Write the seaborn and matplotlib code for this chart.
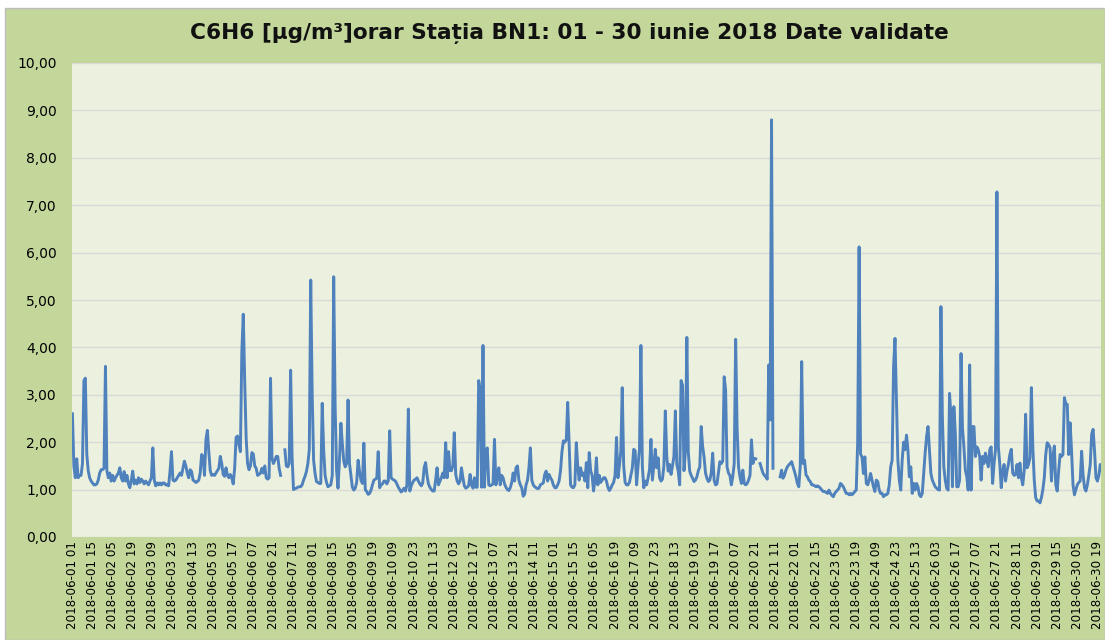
import numpy as np
import pandas as pd
import matplotlib
matplotlib.use("Agg")
import matplotlib.pyplot as plt
from matplotlib.patches import Rectangle
import seaborn as sns

nan = float("nan")

# Hourly C6H6 values (µg/m³), 24 per day, hour 01 .. 24
jun01 = [2.6, 1.5, 1.25, 1.65, 1.25, 1.3, 1.3, 1.55, 3.3, 3.35, 1.75, 1.4, 1.25, 1.18, 1.14, 1.1, 1.1, 1.12, 1.2, 1.35, 1.42, 1.42, 1.45, 3.6]
jun02 = [1.4, 1.25, 1.35, 1.18, 1.3, 1.18, 1.25, 1.3, 1.35, 1.46, 1.25, 1.18, 1.38, 1.18, 1.3, 1.12, 1.04, 1.2, 1.39, 1.12, 1.2, 1.12, 1.25, 1.15]
jun03 = [1.22, 1.18, 1.12, 1.18, 1.14, 1.1, 1.18, 1.25, 1.88, 1.2, 1.08, 1.14, 1.1, 1.14, 1.1, 1.14, 1.14, 1.1, 1.1, 1.08, 1.4, 1.8, 1.2, 1.18]
jun04 = [1.2, 1.25, 1.3, 1.35, 1.3, 1.45, 1.6, 1.5, 1.35, 1.25, 1.42, 1.38, 1.2, 1.18, 1.15, 1.17, 1.2, 1.35, 1.74, 1.7, 1.3, 2.05, 2.25, 1.8]
jun05 = [1.4, 1.3, 1.32, 1.3, 1.35, 1.4, 1.45, 1.7, 1.55, 1.32, 1.28, 1.46, 1.3, 1.25, 1.32, 1.25, 1.12, 1.45, 2.1, 2.13, 1.95, 1.8, 3.9, 4.7]
jun06 = [3.3, 2.1, 1.55, 1.42, 1.5, 1.78, 1.75, 1.5, 1.45, 1.3, 1.32, 1.35, 1.45, 1.35, 1.5, 1.25, 1.22, 1.25, 3.35, 1.66, 1.55, 1.62, 1.7, 1.7]
jun07 = [1.45, 1.3, nan, nan, 1.84, 1.5, 1.48, 1.55, 3.52, 1.7, 1.0, 1.02, 1.03, 1.05, 1.06, 1.06, 1.1, 1.2, 1.28, 1.38, 1.55, 1.84, 5.42, 3.03]
jun08 = [1.62, 1.34, 1.17, 1.15, 1.13, 1.13, 2.82, 1.84, 1.3, 1.15, 1.06, 1.08, 1.1, 1.3, 5.49, 2.75, 1.41, 1.03, 1.62, 2.4, 1.98, 1.6, 1.48, 1.55]
jun09 = [2.89, 1.55, 1.3, 1.05, 0.99, 1.03, 1.15, 1.62, 1.38, 1.2, 1.13, 1.98, 1.0, 0.96, 0.9, 0.92, 0.99, 1.1, 1.2, 1.22, 1.24, 1.8, 1.04, 1.1]
jun10 = [1.12, 1.18, 1.18, 1.12, 1.18, 2.24, 1.25, 1.22, 1.2, 1.18, 1.12, 1.05, 1.0, 0.95, 0.98, 1.03, 0.97, 1.1, 2.7, 0.97, 1.08, 1.15, 1.2, 1.22]
jun11 = [1.25, 1.18, 1.12, 1.08, 1.14, 1.46, 1.57, 1.3, 1.12, 1.05, 1.0, 0.97, 0.97, 1.2, 1.46, 1.1, 1.18, 1.25, 1.35, 1.25, 1.99, 1.25, 1.8, 1.4]
jun12 = [1.4, 1.5, 2.2, 1.32, 1.18, 1.12, 1.18, 1.46, 1.25, 1.08, 1.03, 1.05, 1.08, 1.32, 1.1, 1.03, 1.25, 1.05, 1.05, 3.3, 3.1, 1.05, 4.04, 1.05]
jun13 = [1.8, 1.88, 1.1, 1.08, 1.1, 1.12, 2.06, 1.1, 1.25, 1.46, 1.1, 1.3, 1.25, 1.12, 1.05, 1.0, 0.98, 1.04, 1.15, 1.35, 1.18, 1.46, 1.5, 1.2]
jun14 = [1.1, 1.04, 0.86, 0.9, 1.1, 1.2, 1.46, 1.88, 1.2, 1.1, 1.06, 1.04, 1.02, 1.03, 1.1, 1.12, 1.14, 1.32, 1.39, 1.18, 1.32, 1.25, 1.2, 1.1]
jun15 = [1.04, 1.04, 1.1, 1.18, 1.4, 1.8, 2.03, 2.0, 2.05, 2.84, 2.0, 1.1, 1.05, 1.04, 1.1, 1.99, 1.5, 1.2, 1.46, 1.3, 1.35, 1.18, 1.57, 1.04]
jun16 = [1.78, 1.4, 1.3, 0.97, 1.2, 1.67, 1.1, 1.3, 1.15, 1.2, 1.25, 1.25, 1.18, 1.05, 0.98, 1.03, 1.1, 1.15, 1.3, 2.1, 1.25, 1.5, 1.8, 3.15]
jun17 = [1.5, 1.15, 1.1, 1.1, 1.15, 1.3, 1.45, 1.85, 1.82, 1.1, 1.5, 1.85, 4.04, 1.5, 1.04, 1.18, 1.1, 1.25, 1.42, 2.06, 1.2, 1.5, 1.85, 1.46]
jun18 = [1.67, 1.25, 1.18, 1.22, 1.5, 2.66, 1.7, 1.39, 1.53, 1.32, 1.5, 1.7, 2.66, 1.53, 1.39, 1.1, 3.3, 3.2, 1.4, 1.8, 4.21, 1.8, 1.39, 1.3]
jun19 = [1.24, 1.17, 1.2, 1.27, 1.4, 1.48, 2.33, 1.91, 1.69, 1.35, 1.24, 1.17, 1.2, 1.35, 1.77, 1.2, 1.1, 1.12, 1.35, 1.59, 1.55, 1.6, 3.38, 3.1]
jun20 = [1.48, 1.35, 1.3, 1.1, 1.27, 1.55, 4.17, 2.3, 1.48, 1.27, 1.13, 1.41, 1.13, 1.1, 1.13, 1.2, 1.3, 2.05, 1.55, 1.66, 1.65, nan, nan, 1.55]
jun21 = [1.45, 1.35, 1.3, 1.27, 1.22, 3.63, 2.47, 8.8, 1.45, nan, nan, nan, nan, 1.27, 1.41, 1.24, 1.3, 1.41, 1.48, 1.52, 1.55, 1.59, 1.48, 1.38]
jun22 = [1.27, 1.13, 1.06, 1.5, 3.7, 1.55, 1.62, 1.31, 1.27, 1.2, 1.17, 1.1, 1.1, 1.08, 1.06, 1.08, 1.06, 1.03, 0.99, 0.96, 0.96, 0.94, 0.92, 0.99]
jun23 = [0.92, 0.88, 0.85, 0.92, 0.96, 0.99, 1.03, 1.13, 1.1, 1.06, 0.99, 0.92, 0.92, 0.89, 0.92, 0.89, 0.92, 0.96, 0.99, 2.0, 6.12, 1.75, 1.69, 1.34]
jun24 = [1.69, 1.13, 1.1, 1.2, 1.34, 1.2, 1.06, 0.96, 1.2, 1.17, 0.99, 0.92, 0.92, 0.85, 0.89, 0.89, 0.92, 1.1, 1.48, 1.62, 3.59, 4.19, 2.89, 1.62]
jun25 = [1.2, 0.99, 1.62, 2.0, 1.84, 2.15, 1.84, 1.27, 1.48, 0.92, 1.13, 0.99, 1.13, 1.06, 0.89, 0.85, 0.92, 1.34, 1.77, 2.12, 2.33, 1.84, 1.34, 1.2]
jun26 = [1.13, 1.06, 1.03, 1.0, 0.99, 4.86, 2.54, 1.48, 1.2, 1.03, 0.99, 3.03, 2.55, 1.06, 2.75, 2.2, 1.06, 1.06, 1.2, 3.87, 2.3, 1.9, 1.41, 1.27]
jun27 = [0.99, 3.63, 0.99, 2.33, 2.33, 1.7, 1.9, 1.84, 1.7, 1.2, 1.7, 1.55, 1.77, 1.62, 1.48, 1.84, 1.9, 1.13, 1.55, 1.84, 7.28, 1.9, 1.53, 1.04]
jun28 = [1.4, 1.53, 1.18, 1.39, 1.53, 1.74, 1.85, 1.35, 1.3, 1.32, 1.53, 1.25, 1.56, 1.25, 1.1, 1.4, 2.59, 1.46, 1.53, 1.67, 3.15, 1.9, 1.2, 0.83]
jun29 = [0.76, 0.76, 0.72, 0.83, 1.0, 1.25, 1.74, 1.99, 1.95, 1.88, 1.18, 1.7, 1.92, 1.1, 0.97, 1.4, 1.74, 1.7, 1.74, 2.94, 2.8, 2.8, 1.74, 2.41]
jun30 = [1.81, 1.1, 0.89, 1.0, 1.1, 1.15, 1.18, 1.81, 1.32, 1.04, 0.97, 1.1, 1.3, 1.53, 2.17, 2.27, 1.81, 1.25, 1.18, 1.3, 1.53, 1.39, 1.46, 1.55]

x_tick_labels = [
    "2018-06-01 01", "2018-06-01 15", "2018-06-02 05", "2018-06-02 19", "2018-06-03 09",
    "2018-06-03 23", "2018-06-04 13", "2018-06-05 03", "2018-06-05 17", "2018-06-06 07",
    "2018-06-06 21", "2018-06-07 11", "2018-06-08 01", "2018-06-08 15", "2018-06-09 05",
    "2018-06-09 19", "2018-06-10 09", "2018-06-10 23", "2018-06-11 13", "2018-06-12 03",
    "2018-06-12 17", "2018-06-13 07", "2018-06-13 21", "2018-06-14 11", "2018-06-15 01",
    "2018-06-15 15", "2018-06-16 05", "2018-06-16 19", "2018-06-17 09", "2018-06-17 23",
    "2018-06-18 13", "2018-06-19 03", "2018-06-19 17", "2018-06-20 07", "2018-06-20 21",
    "2018-06-21 11", "2018-06-22 01", "2018-06-22 15", "2018-06-23 05", "2018-06-23 19",
    "2018-06-24 09", "2018-06-24 23", "2018-06-25 13", "2018-06-26 03", "2018-06-26 17",
    "2018-06-27 07", "2018-06-27 21", "2018-06-28 11", "2018-06-29 01", "2018-06-29 15",
    "2018-06-30 05", "2018-06-30 19",
]
y_ticks = [0, 1, 2, 3, 4, 5, 6, 7, 8, 9, 10]
title = "C6H6 [µg/m³]orar Stația BN1: 01 - 30 iunie 2018 Date validate"

days = [jun01, jun02, jun03, jun04, jun05, jun06, jun07, jun08, jun09, jun10,
        jun11, jun12, jun13, jun14, jun15, jun16, jun17, jun18, jun19, jun20,
        jun21, jun22, jun23, jun24, jun25, jun26, jun27, jun28, jun29, jun30]
values = [v for d in days for v in d]
assert len(values) == 720

df = pd.DataFrame({"idx": np.arange(len(values)), "val": values})
df["seg"] = df["val"].isna().cumsum()
df = df.dropna()

plt.rcParams["font.family"] = ["DejaVu Sans"]

W, H = 1105, 640
fig = plt.figure(figsize=(W / 100, H / 100), dpi=100)
fig.patch.set_facecolor("white")
fig.add_artist(Rectangle((5 / W, 0), 1 - 5 / W, 1 - 8 / H, transform=fig.transFigure,
                         facecolor="#c4d79b", edgecolor="#bdbdbd", lw=1, zorder=0))

ax = fig.add_axes([72 / W, 103 / H, 1029 / W, 474 / H])
ax.set_facecolor("#ebf1de")

sns.lineplot(data=df, x="idx", y="val", units="seg", estimator=None,
             color="#4f81bd", linewidth=2.1, ax=ax, legend=False)

ax.set_xlim(-0.3, 716.5)
ax.set_ylim(0, 10)
ax.set_yticks(y_ticks)
ax.set_yticklabels([f"{t:.2f}".replace(".", ",") for t in y_ticks], fontsize=10)
ax.set_xticks(np.arange(0, 14 * len(x_tick_labels), 14))
ax.set_xticklabels(x_tick_labels, rotation=90, fontsize=8.6, va="top", ha="center")
ax.tick_params(axis="both", length=0)
ax.tick_params(axis="y", pad=11)
ax.tick_params(axis="x", pad=3)
ax.grid(axis="y", color="#d9d9d9", linewidth=1)
ax.grid(axis="x", visible=False)
ax.set_axisbelow(True)
for s in ax.spines.values():
    s.set_visible(False)
ax.set_xlabel("")
ax.set_ylabel("")

fig.text(569 / W, 1 - 33 / H, title, ha="center", va="center",
         fontsize=15.6, fontweight="bold", color="#111111")

fig.savefig("out.png", dpi=100, facecolor=fig.get_facecolor())
